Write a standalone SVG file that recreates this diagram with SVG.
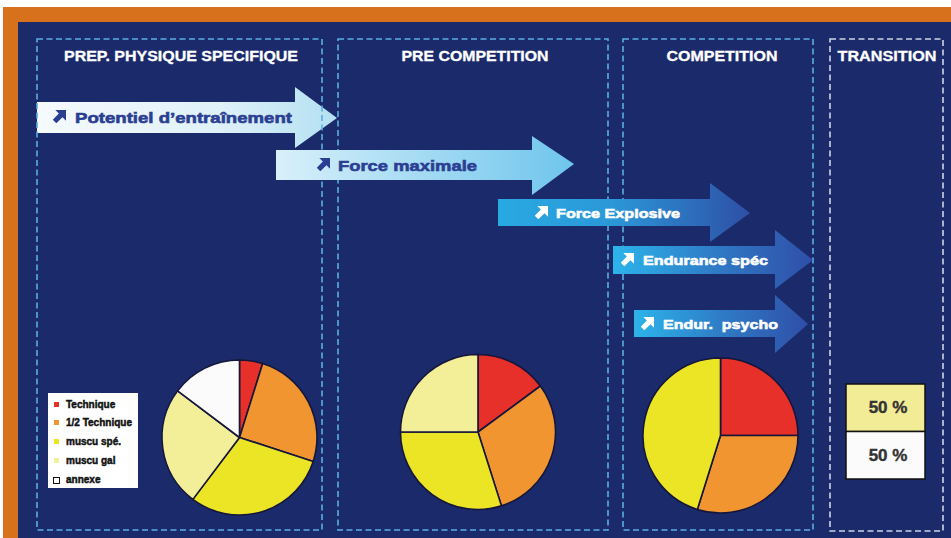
<svg xmlns="http://www.w3.org/2000/svg" width="951" height="538" viewBox="0 0 951 538">
<defs>
<style>
.phase{fill:none;stroke:#5aaee2;stroke-width:1.6;stroke-dasharray:6 3.5}
.phase.tr{stroke:#cdd5e6}
.hd{font-family:"Liberation Sans",Arial,sans-serif;font-weight:bold;font-size:14px;fill:#ffffff;stroke:#ffffff;stroke-width:0.3;text-anchor:middle}
.at{font-family:"Liberation Sans",Arial,sans-serif;font-weight:bold;stroke-width:0.6}
.lg{font-family:"Liberation Sans",Arial,sans-serif;font-weight:bold;font-size:10px;fill:#111;stroke:#111;stroke-width:0.45}
.pie path{stroke:#15163a;stroke-width:1.6;stroke-linejoin:round}
.red{fill:#e8302a}.org{fill:#f0952f}.yel{fill:#ebe526}.pal{fill:#f3ee98}.wht{fill:#fbfbfb}
.pct{font-family:"Liberation Sans",Arial,sans-serif;font-weight:bold;font-size:17px;fill:#333;stroke:#333;stroke-width:0.4;text-anchor:middle}
</style>
<linearGradient id="g1" x1="0" x2="1" y1="0" y2="0"><stop offset="0" stop-color="#f6fafd"/><stop offset="0.6" stop-color="#e0f1f9"/><stop offset="1" stop-color="#b3e0f2"/></linearGradient>
<linearGradient id="g2" x1="0" x2="1" y1="0" y2="0"><stop offset="0" stop-color="#d8f0fa"/><stop offset="1" stop-color="#6fc5ec"/></linearGradient>
<linearGradient id="g3" x1="0" x2="1" y1="0" y2="0"><stop offset="0" stop-color="#28a9e2"/><stop offset="0.45" stop-color="#2b98d8"/><stop offset="1" stop-color="#2e4fa6"/></linearGradient>
<linearGradient id="g4" x1="0" x2="1" y1="0" y2="0"><stop offset="0" stop-color="#2cb4ea"/><stop offset="0.5" stop-color="#2f7cc6"/><stop offset="1" stop-color="#2f4ea8"/></linearGradient>
<symbol id="ico" viewBox="0 0 14 14"><polygon points="2.5,0 14,0 14,11.5 10.2,7.7 3.6,14.3 -0.3,10.4 6.3,3.8"/></symbol>
</defs>

<rect x="0" y="0" width="951" height="538" fill="#ffffff"/>
<rect x="3" y="7" width="948" height="531" fill="#d8711b"/>
<rect x="18" y="22" width="933" height="516" fill="#1b2a6b"/>

<g id="arrow-potentiel">
<polygon points="37,102 295,102 295,87 337,118 295,148 295,133 37,133" fill="url(#g1)"/>
<use href="#ico" x="53" y="110" width="13" height="13" fill="#2b3f92"/>
<text class="at" x="75" y="123" font-size="15" fill="#2b3f92" stroke="#2b3f92" textLength="217" lengthAdjust="spacingAndGlyphs">Potentiel d’entraînement</text>
</g>

<g id="phases">
<g id="phase-prep"><rect class="phase" x="37" y="39" width="285" height="491"/><text class="hd" x="181" y="61" textLength="234" lengthAdjust="spacingAndGlyphs">PREP. PHYSIQUE SPECIFIQUE</text></g>
<g id="phase-precomp"><rect class="phase" x="338" y="39" width="270" height="491"/><text class="hd" x="475" y="61" textLength="147" lengthAdjust="spacingAndGlyphs">PRE COMPETITION</text></g>
<g id="phase-comp"><rect class="phase" x="623" y="39" width="190" height="491"/><text class="hd" x="722" y="61" textLength="111" lengthAdjust="spacingAndGlyphs">COMPETITION</text></g>
<g id="phase-transition"><rect class="phase tr" x="830" y="39" width="113" height="492"/><text class="hd" x="887" y="61" textLength="99" lengthAdjust="spacingAndGlyphs">TRANSITION</text></g>
</g>

<g id="arrow-force-max">
<polygon points="276,150 532,150 532,136 574,164 532,195 532,180 276,180" fill="url(#g2)"/>
<use href="#ico" x="317" y="158" width="13" height="13" fill="#2b3f92"/>
<text class="at" x="338" y="171" font-size="15" fill="#2b3f92" stroke="#2b3f92" textLength="139" lengthAdjust="spacingAndGlyphs">Force maximale</text>
</g>

<g id="arrow-force-explosive">
<polygon points="498,199 710,199 710,183 750,213 710,242 710,226 498,226" fill="url(#g3)"/>
<use href="#ico" x="535" y="206" width="13" height="13" fill="#ffffff"/>
<text class="at" x="556" y="218" font-size="13.5" fill="#ffffff" stroke="#ffffff" textLength="124" lengthAdjust="spacingAndGlyphs">Force Explosive</text>
</g>

<g id="arrow-endurance-spec">
<polygon points="613,246 775,246 775,230 813,260 775,289 775,274 613,274" fill="url(#g4)"/>
<use href="#ico" x="621" y="253" width="13" height="13" fill="#ffffff"/>
<text class="at" x="643" y="265" font-size="13.5" fill="#ffffff" stroke="#ffffff" textLength="125" lengthAdjust="spacingAndGlyphs">Endurance spéc</text>
</g>

<g id="arrow-endur-psycho">
<polygon points="634,310 775,310 775,295 808,324 775,353 775,337 634,337" fill="url(#g4)"/>
<use href="#ico" x="641" y="317" width="13" height="13" fill="#ffffff"/>
<text class="at" x="663" y="329" font-size="13.5" fill="#ffffff" stroke="#ffffff" textLength="115" lengthAdjust="spacingAndGlyphs" xml:space="preserve">Endur.  psycho</text>
</g>

<g id="legend">
<rect x="48" y="393" width="90" height="95" fill="#ffffff"/>
<rect x="54" y="402" width="5" height="5" class="red"/><text class="lg" x="66" y="408">Technique</text>
<rect x="54" y="420" width="5" height="5" class="org"/><text class="lg" x="66" y="426">1/2 Technique</text>
<rect x="54" y="439" width="5" height="5" class="yel"/><text class="lg" x="66" y="445">muscu spé.</text>
<rect x="54" y="458" width="5" height="5" class="pal"/><text class="lg" x="66" y="464">muscu gal</text>
<rect x="53.5" y="477.5" width="6" height="6" fill="#fff" stroke="#111" stroke-width="1"/><text class="lg" x="66" y="483">annexe</text>
</g>

<g id="pie-prep" class="pie">
<path class="red" d="M239.5,437.5 L239.5,360 A77.5,77.5 0 0 1 262.67,363.54 Z"/>
<path class="org" d="M239.5,437.5 L262.67,363.54 A77.5,77.5 0 0 1 313.21,461.45 Z"/>
<path class="yel" d="M239.5,437.5 L313.21,461.45 A77.5,77.5 0 0 1 192.86,499.39 Z"/>
<path class="pal" d="M239.5,437.5 L192.86,499.39 A77.5,77.5 0 0 1 177.61,390.86 Z"/>
<path class="wht" d="M239.5,437.5 L177.61,390.86 A77.5,77.5 0 0 1 239.5,360 Z"/>
</g>

<g id="pie-precomp" class="pie">
<path class="red" d="M478,432 L478,354.5 A77.5,77.5 0 0 1 540.38,386.01 Z"/>
<path class="org" d="M478,432 L540.38,386.01 A77.5,77.5 0 0 1 501.44,505.87 Z"/>
<path class="yel" d="M478,432 L501.44,505.87 A77.5,77.5 0 0 1 400.5,432 Z"/>
<path class="pal" d="M478,432 L400.5,432 A77.5,77.5 0 0 1 478,354.5 Z"/>
</g>

<g id="pie-comp" class="pie">
<path class="red" d="M720.5,435.5 L720.5,358 A77.5,77.5 0 0 1 798,435.5 Z"/>
<path class="org" d="M720.5,435.5 L798,435.5 A77.5,77.5 0 0 1 697.33,509.46 Z"/>
<path class="yel" d="M720.5,435.5 L697.33,509.46 A77.5,77.5 0 0 1 720.5,358 Z"/>
</g>

<g id="transition-split">
<rect x="846" y="384" width="79" height="47.5" fill="#f3ec96" stroke="#111" stroke-width="1.5"/>
<rect x="846" y="431.5" width="79" height="47.5" fill="#fbfbfb" stroke="#111" stroke-width="1.5"/>
<text class="pct" x="888" y="413">50 %</text>
<text class="pct" x="888" y="461">50 %</text>
</g>
</svg>
